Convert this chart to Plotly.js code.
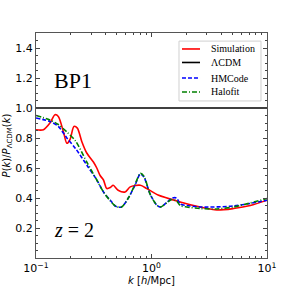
<!DOCTYPE html>
<html><head><meta charset="utf-8">
<script src="https://cdn.plot.ly/plotly-3.0.1.min.js"></script>
<style>body{margin:0;padding:0;background:#fff}#plot{width:296px;height:296px}</style>
</head><body><div id="plot"></div>
<script>
// Simulation (red)
const simK = [0.1,0.116,0.132,0.146,0.156,0.173,0.185,0.197,0.213,0.228,0.249,0.275,0.314,0.336,0.359,0.384,0.41,0.44,0.466,0.514,0.591,0.654,0.80,0.91,1.14,1.77,2.64,3.68,5.14,7.17,10];
const simV = [0.855,0.855,0.90,0.955,0.944,0.84,0.765,0.79,0.877,0.866,0.777,0.70,0.64,0.60,0.55,0.52,0.463,0.47,0.485,0.452,0.44,0.474,0.485,0.463,0.42,0.374,0.34,0.32,0.33,0.35,0.385];
// LCDM reference
const lcdmK = [0.1,10];
const lcdmV = [1.0,1.0];
// HMCode (blue dashed)
const hmK = [0.1,0.132,0.156,0.185,0.22,0.275,0.336,0.384,0.44,0.49,0.55,0.63,0.72,0.80,0.86,0.98,1.12,1.20,1.37,1.52,1.65,1.77,2.02,2.64,5.14,10];
const hmV = [0.933,0.91,0.877,0.80,0.73,0.62,0.52,0.44,0.385,0.345,0.34,0.40,0.486,0.56,0.54,0.42,0.35,0.34,0.374,0.40,0.40,0.36,0.35,0.34,0.347,0.385];
// Halofit (green dash-dot)
const hfK = [0.1,0.132,0.156,0.185,0.22,0.275,0.336,0.384,0.44,0.49,0.55,0.63,0.72,0.80,0.86,0.98,1.12,1.20,1.37,1.50,1.65,1.77,2.02,2.64,3.68,5.14,10];
const hfV = [0.95,0.92,0.89,0.84,0.78,0.64,0.52,0.44,0.38,0.345,0.34,0.40,0.49,0.565,0.545,0.42,0.35,0.34,0.37,0.39,0.38,0.35,0.34,0.33,0.327,0.34,0.397];
// legend labels
const seriesNames = ['Simulation','ΛCDM','HMCode','Halofit'];
const seriesColors = ['#ff0000','#000000','#0000ff','#008000'];
const seriesDash = ['solid','solid','4px,2px','5px,2px,1px,2px'];

const traces = [
 {x:simK,y:simV,name:seriesNames[0],mode:'lines',line:{color:seriesColors[0],width:1.6,shape:'spline',smoothing:0.8}},
 {x:lcdmK,y:lcdmV,name:seriesNames[1],mode:'lines',line:{color:seriesColors[1],width:1.6}},
 {x:hmK,y:hmV,name:seriesNames[2],mode:'lines',line:{color:seriesColors[2],width:1.6,dash:seriesDash[2],shape:'spline',smoothing:0.8}},
 {x:hfK,y:hfV,name:seriesNames[3],mode:'lines',line:{color:seriesColors[3],width:1.6,dash:seriesDash[3],shape:'spline',smoothing:0.8}}
];
const serif = 'Liberation Serif, Times New Roman, serif';
const axCommon = {showline:true, linecolor:'#555', linewidth:1, mirror:'ticks', ticks:'inside', ticklen:4, tickcolor:'#444', showgrid:false, zeroline:false,
  tickfont:{family:'DejaVu Sans, sans-serif', size:11, color:'#000'}};

// manual legend (matplotlib-like compact spacing)
const shapes = [{type:'rect',xref:'paper',yref:'paper',x0:0.619,x1:0.974,y0:0.698,y1:0.964,line:{color:'#d0d0d0',width:1},fillcolor:'rgba(255,255,255,0.85)',layer:'above'}];
const annotations = [];
const rowY = [0.929,0.869,0.80,0.738];
seriesNames.forEach((n,i)=>{
  shapes.push({type:'line',xref:'paper',yref:'paper',x0:0.632,x1:0.71,y0:rowY[i],y1:rowY[i],line:{color:seriesColors[i],width:1.6,dash:seriesDash[i]},layer:'above'});
  annotations.push({xref:'paper',yref:'paper',x:0.748,y:rowY[i],xanchor:'left',yanchor:'middle',text:n,showarrow:false,font:{family:serif,size:10,color:'#000'}});
});
annotations.push({xref:'paper',yref:'paper',x:0.07,y:0.79,xanchor:'left',yanchor:'middle',text:'BP1',showarrow:false,font:{family:serif,size:22,color:'#000'}});
annotations.push({xref:'paper',yref:'paper',x:0.07,y:0.125,xanchor:'left',yanchor:'middle',text:'<i>z</i> = 2',showarrow:false,font:{family:serif,size:20,color:'#000'}});

const layout = {
  width:296, height:296, margin:{l:36,r:29,t:33,b:38}, paper_bgcolor:'#fff', plot_bgcolor:'#fff',
  showlegend:false,
  xaxis:Object.assign({}, axCommon, {type:'log', range:[-1,1], tickvals:[0.1,1,10], ticktext:['10<sup>−1</sup>','10<sup>0</sup>','10<sup>1</sup>'],
    minor:{ticks:'inside', ticklen:2, tickcolor:'#444', tickvals:[0.2,0.3,0.4,0.5,0.6,0.7,0.8,0.9,2,3,4,5,6,7,8,9]},
    title:{text:'<i>k</i> [<i>h</i>/Mpc]', font:{family:'DejaVu Sans, sans-serif', size:10, color:'#000'}, standoff:2}}),
  yaxis:Object.assign({}, axCommon, {range:[0,1.5], tickvals:[0.2,0.4,0.6,0.8,1.0,1.2,1.4], ticktext:['0.2','0.4','0.6','0.8','1.0','1.2','1.4'],
    minor:{ticks:'inside', ticklen:2, tickcolor:'#444', dtick:0.05},
    title:{text:'<i>P</i>(<i>k</i>)/<i>P</i><sub>ΛCDM</sub>(<i>k</i>)', font:{family:'DejaVu Sans, sans-serif', size:10, color:'#000'}, standoff:2}}),
  shapes:shapes,
  annotations:annotations
};
Plotly.newPlot('plot', traces, layout, {staticPlot:true});
</script></body></html>
